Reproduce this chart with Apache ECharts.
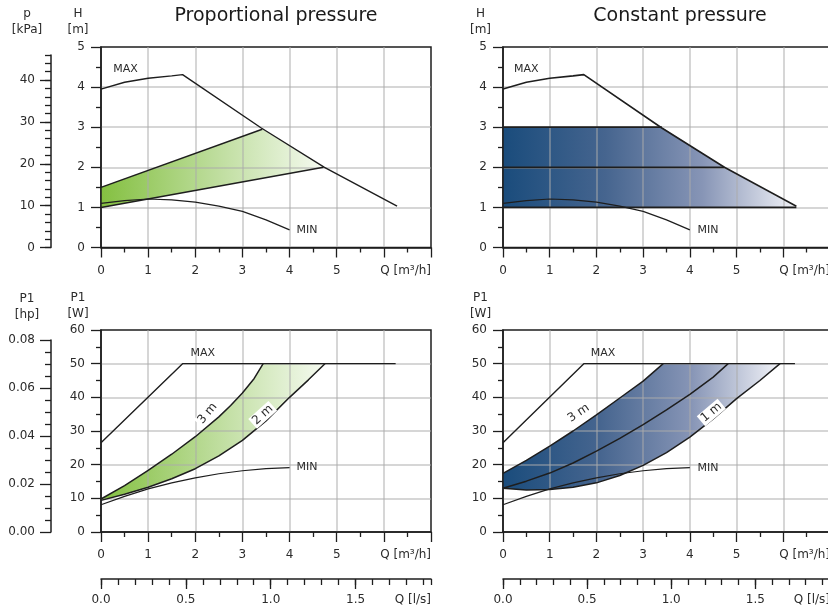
<!DOCTYPE html>
<html>
<head>
<meta charset="utf-8">
<title>Pump curves</title>
<script src="https://cdn.jsdelivr.net/npm/echarts@6/dist/echarts.min.js"></script>
<style>
html, body { margin: 0; padding: 0; background: #fff; }
#chart { width: 828px; height: 612px; }
</style>
</head>
<body>
<div id="chart"></div>
<script>
// ---- H / Q curves (Q in m3/h, H in m) ----
var maxQ = [0, 0.5, 1, 1.5, 1.73, 3.4, 4.74, 6.28];
var maxH = [3.95, 4.12, 4.22, 4.28, 4.31, 2.98, 2.0, 1.03];
var minQ = [0, 0.5, 1, 1.5, 2, 2.5, 3, 3.5, 4];
var minH = [1.1, 1.17, 1.21, 1.19, 1.13, 1.03, 0.9, 0.69, 0.44];

// proportional pressure band
var propHiQ = [0, 3.42];
var propHiH = [1.5, 2.95];
var propLoQ = [0, 4.72];
var propLoH = [1.0, 2.0];

// constant pressure levels and where they meet MAX
var cpH = [3, 2, 1];
var cpQend = [3.4, 4.74, 6.28];

// ---- P1 / Q curves (W) ----
var maxPQ = [0, 1.73, 6.25];
var maxPW = [26.5, 50, 50];
var minPQ = [0, 0.5, 1, 1.5, 2, 2.5, 3, 3.5, 4];
var minPW = [8.1, 10.6, 12.8, 14.6, 16.1, 17.3, 18.2, 18.8, 19.1];

// proportional: 3 m and 2 m
var pp3Q = [0, 0.5, 1, 1.5, 2, 2.5, 2.75, 3, 3.25, 3.44];
var pp3W = [9.8, 13.8, 18.3, 23.1, 28.3, 34.2, 37.6, 41.3, 45.6, 50];
var pp2Q = [0, 0.5, 1, 1.5, 2, 2.5, 3, 3.5, 4, 4.4, 4.75];
var pp2W = [9.4, 11.2, 13.3, 15.8, 18.8, 22.6, 27.2, 33, 40, 45.2, 50];

// constant: 3 m, 2 m, 1 m
var cp3Q = [0, 0.5, 1, 1.5, 2, 2.5, 3, 3.43];
var cp3W = [17.4, 21.3, 25.5, 30, 34.8, 39.8, 44.8, 50];
var cp2Q = [0, 0.5, 1, 1.5, 2, 2.5, 3, 3.5, 4, 4.5, 4.82];
var cp2W = [13, 15.1, 17.5, 20.5, 24, 27.8, 31.9, 36.3, 40.9, 46, 50];
var cp1Q = [0, 0.5, 1, 1.5, 2, 2.5, 3, 3.5, 4, 4.5, 5, 5.5, 5.93];
var cp1W = [13, 12.5, 12.6, 13.3, 14.6, 16.8, 19.8, 23.6, 28.2, 33.6, 39.6, 45, 50];

var FONT = "'DejaVu Sans', 'Liberation Sans', sans-serif";
var INK = '#1e1e1e';
var TXT = '#2b2b2b';
var GRID_LINE = 'rgba(170,170,170,0.65)';
var GREEN = [
  {offset: 0, color: '#84c041'},
  {offset: 0.5, color: '#bcdc9a'},
  {offset: 1, color: '#f5faf0'}
];
var BLUE = [
  {offset: 0, color: '#1a4c7c'},
  {offset: 0.35, color: '#46658f'},
  {offset: 0.68, color: '#8795b6'},
  {offset: 1, color: '#f2f3f8'}
];

function pairs(xs, ys) {
  return xs.map(function (x, i) { return [x, ys[i]]; });
}

var chart = echarts.init(document.getElementById('chart'));

// grids: 0-3 main plots, 4-6 secondary unit axes, 7-10 l/s axes
var frame = {show: true, borderColor: INK, borderWidth: 1.5, backgroundColor: 'transparent', outerBoundsMode: 'none'};
var grids = [
  Object.assign({left: 101, top: 47, width: 330, height: 200.5}, frame),
  Object.assign({left: 503, top: 47, width: 327, height: 200.5}, frame),
  Object.assign({left: 101, top: 330, width: 330, height: 202}, frame),
  Object.assign({left: 503, top: 330, width: 327, height: 202}, frame),
  {left: 51, top: 55, width: 1, height: 192.5, outerBoundsMode: 'none'},
  {left: 51, top: 80.1, width: 1, height: 167.4, outerBoundsMode: 'none'},
  {left: 51, top: 340, width: 1, height: 192, outerBoundsMode: 'none'},
  {left: 101, top: 578, width: 330, height: 1, outerBoundsMode: 'none'},
  {left: 101, top: 578, width: 254.6, height: 1, outerBoundsMode: 'none'},
  {left: 503, top: 578, width: 327, height: 1, outerBoundsMode: 'none'},
  {left: 503, top: 578, width: 252.3, height: 1, outerBoundsMode: 'none'}
];

var lineAx = {show: true, onZero: false, lineStyle: {color: INK, width: 1.5}};
function tick(len) { return {show: true, length: len, lineStyle: {color: INK, width: 1.3}}; }
function minor(n, len) { return {show: true, splitNumber: n, length: len, lineStyle: {color: INK, width: 1.3}}; }
var gridSplit = {show: true, showMinLine: false, showMaxLine: false, lineStyle: {color: GRID_LINE, width: 1.5}};
function lbl(extra) {
  return Object.assign({color: TXT, fontFamily: FONT, fontSize: 12}, extra || {});
}

function qAxis(gi) {
  return {
    type: 'value', gridIndex: gi, min: 0, max: 7, interval: 1, z: 2,
    axisLine: lineAx, axisTick: tick(10), minorTick: minor(2, 5), splitLine: gridSplit,
    axisLabel: lbl({margin: 17, formatter: function (v) { return v <= 5 ? String(v) : ''; }}),
    name: 'Q [m³/h]', nameLocation: 'end', nameGap: 0, nameMoveOverlap: false,
    nameTextStyle: lbl({align: 'right', verticalAlign: 'top', padding: [17, 0, 0, 0]})
  };
}

function yMain(gi, max, interval, name, shift, gap) {
  return {
    type: 'value', gridIndex: gi, min: 0, max: max, interval: interval, z: 2,
    axisLine: lineAx, axisTick: tick(10), minorTick: minor(2, 5), splitLine: gridSplit,
    axisLabel: lbl({margin: 16}),
    name: name, nameLocation: 'end', nameGap: gap, nameMoveOverlap: false,
    nameTextStyle: lbl({align: 'center', verticalAlign: 'bottom', lineHeight: 16, padding: [0, shift, 0, 0]})
  };
}

function hidden(gi) {
  return {type: 'value', gridIndex: gi, min: 0, max: 1, show: false};
}

var xAxes = [
  qAxis(0), qAxis(1), qAxis(2), qAxis(3),
  hidden(4), hidden(5), hidden(6),
  {
    type: 'value', gridIndex: 7, min: 0, max: 7 / 3.6, interval: 0.1,
    axisLine: lineAx, axisTick: tick(6), axisLabel: {show: false}, splitLine: {show: false},
    name: 'Q [l/s]', nameLocation: 'end', nameGap: 0, nameMoveOverlap: false,
    nameTextStyle: lbl({align: 'right', verticalAlign: 'top', padding: [15, 0, 0, 0]})
  },
  {
    type: 'value', gridIndex: 8, min: 0, max: 1.5, interval: 0.5,
    axisLine: {show: false}, axisTick: tick(10), splitLine: {show: false},
    axisLabel: lbl({margin: 15, formatter: function (v) { return v.toFixed(1); }})
  },
  {
    type: 'value', gridIndex: 9, min: 0, max: 7 / 3.6, interval: 0.1,
    axisLine: lineAx, axisTick: tick(6), axisLabel: {show: false}, splitLine: {show: false},
    name: 'Q [l/s]', nameLocation: 'end', nameGap: 0, nameMoveOverlap: false,
    nameTextStyle: lbl({align: 'right', verticalAlign: 'top', padding: [15, 0, 0, 0]})
  },
  {
    type: 'value', gridIndex: 10, min: 0, max: 1.5, interval: 0.5,
    axisLine: {show: false}, axisTick: tick(10), splitLine: {show: false},
    axisLabel: lbl({margin: 15, formatter: function (v) { return v.toFixed(1); }})
  }
];

var yAxes = [
  yMain(0, 5, 1, 'H\n[m]', 46, 9),
  yMain(1, 5, 1, 'H\n[m]', 45, 9),
  yMain(2, 60, 10, 'P1\n[W]', 46, 8),
  yMain(3, 60, 10, 'P1\n[W]', 45, 8),
  {
    type: 'value', gridIndex: 4, min: 0, max: 46, interval: 2,
    axisLine: lineAx, axisTick: tick(6), axisLabel: {show: false}, splitLine: {show: false},
    name: 'p\n[kPa]', nameLocation: 'end', nameGap: 17, nameMoveOverlap: false,
    nameTextStyle: lbl({align: 'center', verticalAlign: 'bottom', lineHeight: 16, padding: [0, 48, 0, 0]})
  },
  {
    type: 'value', gridIndex: 5, min: 0, max: 40, interval: 10,
    axisLine: {show: false}, axisTick: tick(11), splitLine: {show: false},
    axisLabel: lbl({margin: 16})
  },
  {
    type: 'value', gridIndex: 6, min: 0, max: 0.08, interval: 0.02,
    axisLine: lineAx, axisTick: tick(11), minorTick: minor(4, 6), splitLine: {show: false},
    axisLabel: lbl({margin: 16, formatter: function (v) { return v.toFixed(2); }}),
    name: 'P1\n[hp]', nameLocation: 'end', nameGap: 17, nameMoveOverlap: false,
    nameTextStyle: lbl({align: 'center', verticalAlign: 'bottom', lineHeight: 16, padding: [0, 48, 0, 0]})
  },
  hidden(7), hidden(8), hidden(9), hidden(10)
];

function fill(gi, poly, stops) {
  return {
    type: 'custom', xAxisIndex: gi, yAxisIndex: gi, z: 1, silent: true,
    data: [[0, 0]],
    renderItem: function (params, api) {
      return {
        type: 'polygon',
        shape: {points: poly.map(function (p) { return api.coord(p); })},
        style: {fill: new echarts.graphic.LinearGradient(0, 0, 1, 0, stops), stroke: null}
      };
    }
  };
}

function curve(gi, pts, width, marks) {
  var s = {
    type: 'line', xAxisIndex: gi, yAxisIndex: gi, data: pts, symbol: 'none', z: 3, silent: true,
    lineStyle: {color: INK, width: width || 1.2}
  };
  if (marks) {
    s.markPoint = {
      symbol: 'circle', symbolSize: 1, silent: true, itemStyle: {color: 'rgba(0,0,0,0)'},
      data: marks.map(function (m) {
        return {
          coord: m.at, value: m.text,
          label: {
            show: true, position: 'inside', formatter: m.text, rotate: m.rot || 0,
            color: TXT, fontFamily: FONT, fontSize: m.box ? 12 : 11,
            backgroundColor: m.box ? '#fff' : 'transparent', padding: m.box ? [1, 2, 0, 2] : 0
          }
        };
      })
    };
  }
  return s;
}

var series = [
  // Proportional pressure, H
  fill(0, pairs(propHiQ, propHiH).concat(pairs(propLoQ, propLoH).reverse()), GREEN),
  curve(0, pairs(propHiQ, propHiH), 1.5),
  curve(0, pairs(propLoQ, propLoH), 1.5),
  curve(0, pairs(maxQ, maxH), 1.4, [{at: [0.52, 4.46], text: 'MAX'}]),
  curve(0, pairs(minQ, minH), 1.2, [{at: [4.37, 0.44], text: 'MIN'}]),

  // Constant pressure, H
  fill(1, [[0, cpH[2]], [0, cpH[0]]].concat(cpH.map(function (h, i) { return [cpQend[i], h]; })), BLUE),
  curve(1, [[0, cpH[0]], [cpQend[0], cpH[0]]], 1.8),
  curve(1, [[0, cpH[1]], [cpQend[1], cpH[1]]], 1.8),
  curve(1, [[0, cpH[2]], [cpQend[2], cpH[2]]], 1.8),
  curve(1, pairs(maxQ, maxH), 1.6, [{at: [0.5, 4.46], text: 'MAX'}]),
  curve(1, pairs(minQ, minH), 1.2, [{at: [4.39, 0.44], text: 'MIN'}]),

  // Proportional pressure, P1
  fill(2, pairs(pp3Q, pp3W).concat(pairs(pp2Q, pp2W).reverse()), GREEN),
  curve(2, pairs(pp3Q, pp3W), 1.5, [{at: [2.26, 35.2], text: '3 m', rot: 50, box: true}]),
  curve(2, pairs(pp2Q, pp2W), 1.5, [{at: [3.43, 34.8], text: '2 m', rot: 42, box: true}]),
  curve(2, pairs(maxPQ, maxPW), 1.4, [{at: [2.16, 53.1], text: 'MAX'}]),
  curve(2, pairs(minPQ, minPW), 1.2, [{at: [4.37, 19.2], text: 'MIN'}]),

  // Constant pressure, P1
  fill(3, pairs(cp3Q, cp3W).concat(pairs(cp1Q, cp1W).reverse()), BLUE),
  curve(3, pairs(cp3Q, cp3W), 1.5, [{at: [1.62, 35.3], text: '3 m', rot: 34, box: true}]),
  curve(3, pairs(cp2Q, cp2W), 1.5),
  curve(3, pairs(cp1Q, cp1W), 1.5, [{at: [4.46, 35.5], text: '1 m', rot: 40, box: true}]),
  curve(3, pairs(maxPQ, maxPW), 1.4, [{at: [2.14, 53.1], text: 'MAX'}]),
  curve(3, pairs(minPQ, minPW), 1.2, [{at: [4.39, 19.1], text: 'MIN'}])
];

chart.setOption({
  animation: false,
  backgroundColor: '#fff',
  grid: grids,
  xAxis: xAxes,
  yAxis: yAxes,
  graphic: [
    {type: 'text', x: 276, y: 16, silent: true,
     style: {text: 'Proportional pressure', fill: '#1a1a1a', font: '19px ' + FONT, align: 'center', verticalAlign: 'middle'}},
    {type: 'text', x: 680, y: 16, silent: true,
     style: {text: 'Constant pressure', fill: '#1a1a1a', font: '19px ' + FONT, align: 'center', verticalAlign: 'middle'}}
  ],
  series: series
});
</script>
</body>
</html>
